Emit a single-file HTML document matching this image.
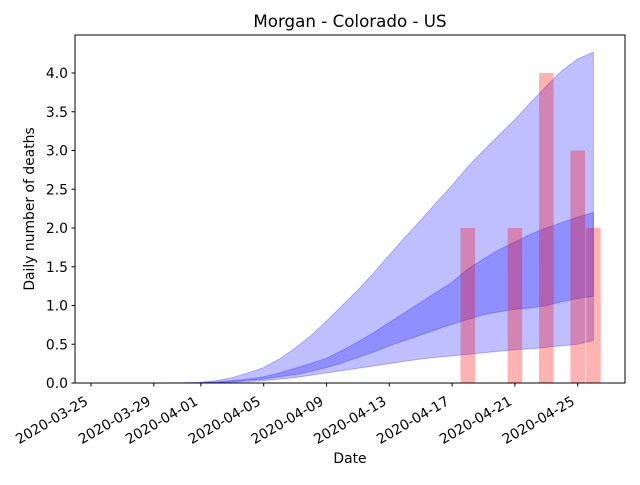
<!DOCTYPE html>
<html><head><meta charset="utf-8"><style>
body{margin:0;background:#fff}
svg text{font-family:"DejaVu Sans","Liberation Sans",sans-serif;fill:#000}
</style></head><body>
<svg id="chart" width="640" height="480">
<rect width="640" height="480" fill="#fff"/>
<text x="350" y="27" font-size="16.7" text-anchor="middle">Morgan - Colorado - US</text>
<g id="plot"></g>
<rect x="75" y="35" width="550" height="348" fill="none" stroke="#000" stroke-width="1"/>
<g id="axes"></g>
<text x="350" y="463" font-size="13.9" text-anchor="middle">Date</text>
<text transform="translate(34,209) rotate(-90)" font-size="13.9" text-anchor="middle">Daily number of deaths</text>
</svg>
<script>
const bandStartDay = 5; // days after 2020-03-25
const outerUpper=[0,0.002,0.01,0.03,0.07,0.13,0.2,0.31,0.45,0.61,0.8,1.0,1.2,1.42,1.65,1.88,2.1,2.33,2.55,2.79,3.0,3.2,3.4,3.62,3.83,4.03,4.18,4.27];
const outerLower=[0,0,0.002,0.005,0.01,0.02,0.03,0.05,0.07,0.1,0.13,0.16,0.19,0.22,0.25,0.28,0.31,0.33,0.35,0.37,0.39,0.41,0.43,0.44,0.46,0.48,0.5,0.55];
const innerUpper=[0,0.001,0.005,0.015,0.03,0.05,0.08,0.13,0.19,0.25,0.32,0.42,0.53,0.65,0.78,0.91,1.04,1.17,1.3,1.47,1.6,1.72,1.82,1.92,2.0,2.07,2.14,2.2];
const innerLower=[0,0.001,0.003,0.01,0.02,0.035,0.05,0.08,0.11,0.15,0.2,0.26,0.33,0.4,0.48,0.55,0.62,0.69,0.76,0.82,0.88,0.92,0.95,0.97,1.0,1.05,1.09,1.12];
const barDays=[24,27,29,31,32];
const barValues=[2,2,4,3,2];
const yTicks=[0,0.5,1.0,1.5,2.0,2.5,3.0,3.5,4.0];
const xTickDays=[0,4,7,11,15,19,23,27,31];
const xTickLabels=["2020-03-25","2020-03-29","2020-04-01","2020-04-05","2020-04-09","2020-04-13","2020-04-17","2020-04-21","2020-04-25"];

const NS="http://www.w3.org/2000/svg";
const X=d=>91+d*15.7;
const Y=v=>383-v*77.5;
const plot=document.getElementById('plot'), axes=document.getElementById('axes');
function mk(tag,attrs,parent){const e=document.createElementNS(NS,tag);for(const k in attrs)e.setAttribute(k,attrs[k]);parent.appendChild(e);return e;}
function band(up,lo){
  let pts=up.map((v,i)=>X(bandStartDay+i)+','+Y(v));
  for(let i=lo.length-1;i>=0;i--)pts.push(X(bandStartDay+i)+','+Y(lo[i]));
  return pts.join(' ');
}
const ob=mk('polygon',{points:band(outerUpper,outerLower),fill:'rgba(0,0,255,0.25)',stroke:'rgba(0,0,255,0.25)'},plot);


const ib=mk('polygon',{points:band(innerUpper,innerLower),fill:'rgba(0,0,255,0.25)',stroke:'rgba(0,0,255,0.25)'},plot);


barDays.forEach((d,i)=>{
  const r=mk('rect',{x:X(d)-7.3,y:Y(barValues[i]),width:14.6,height:Y(0)-Y(barValues[i]),fill:'rgba(255,0,0,0.3)'},plot);
  
  
});
yTicks.forEach(v=>{
  mk('line',{x1:71.5,x2:75,y1:Y(v),y2:Y(v),stroke:'#000'},axes);
  const t=mk('text',{x:68,y:Y(v)+5,'font-size':13.9,'text-anchor':'end'},axes);
  t.textContent=v.toFixed(1);
  
  
});
xTickDays.forEach((d,i)=>{
  mk('line',{x1:X(d),x2:X(d),y1:383,y2:386.5,stroke:'#000'},axes);
  const t=mk('text',{transform:`translate(${X(d)-2},404) rotate(-30)`,'font-size':13.9,'text-anchor':'end'},axes);
  t.textContent=xTickLabels[i];
  
  
});
</script>
</body></html>
